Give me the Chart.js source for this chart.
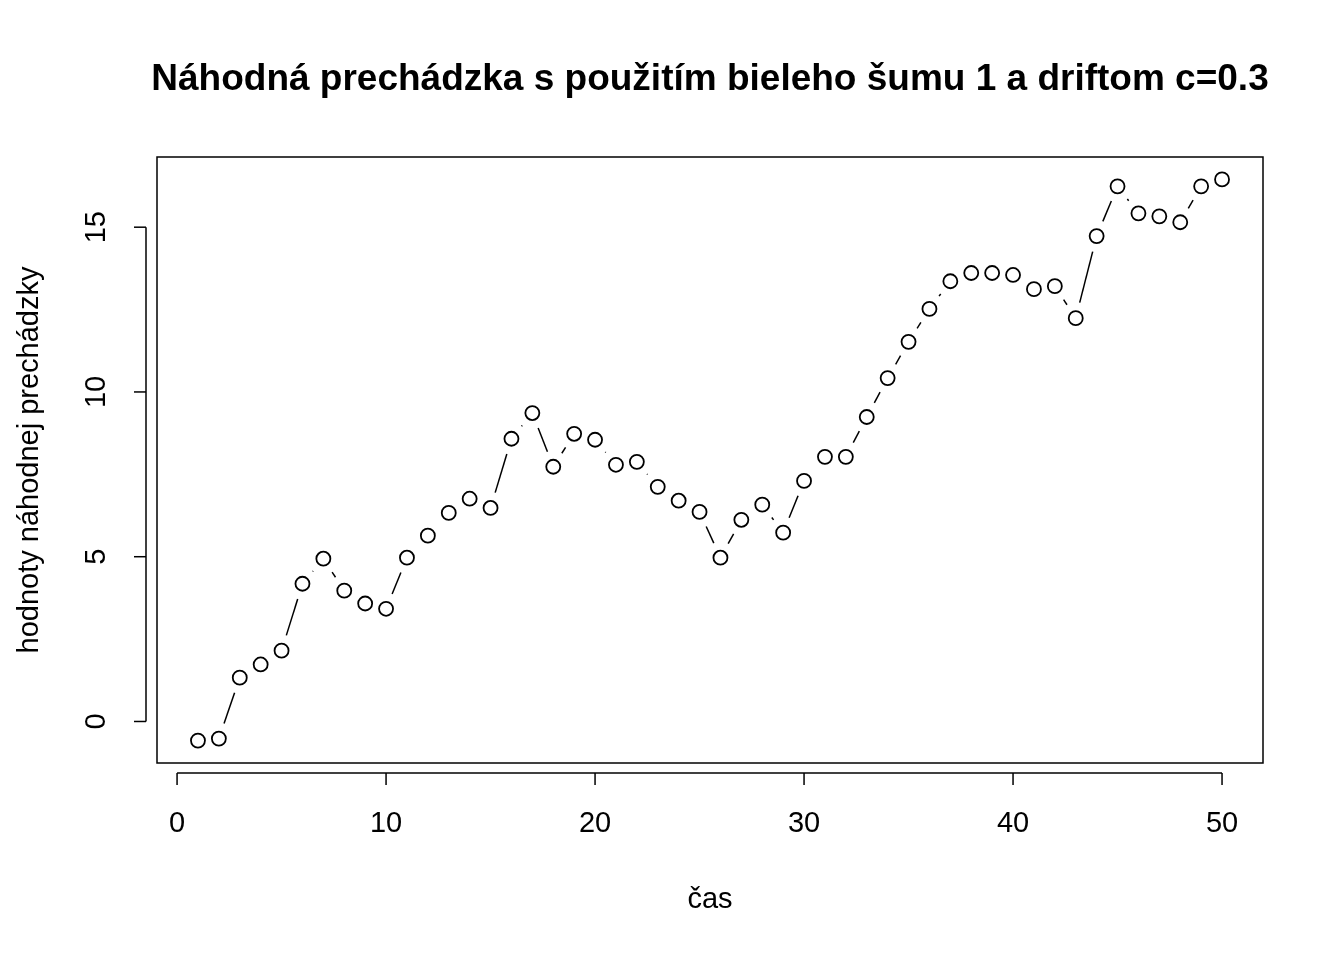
<!DOCTYPE html>
<html><head><meta charset="utf-8">
<script src="https://cdn.jsdelivr.net/npm/chart.js@4/dist/chart.umd.min.js"></script>
<style>body{margin:0;background:#fff}#wrap{width:1344px;height:960px}</style>
</head><body><div id="wrap"><canvas id="c"></canvas></div>
<script>
const titleText = "Náhodná prechádzka s použitím bieleho šumu 1 a driftom c=0.3";
const xLabel = "čas";
const yLabel = "hodnoty náhodnej prechádzky";
const xTicks = [0, 10, 20, 30, 40, 50];
const yTicks = [0, 5, 10, 15];
const times = Array.from({length: 50}, (_, i) => i + 1);
const values = [-0.58, -0.52, 1.33, 1.73, 2.15, 4.18, 4.94, 3.97, 3.58, 3.42,
  4.97, 5.64, 6.33, 6.76, 6.48, 8.58, 9.36, 7.73, 8.73, 8.55,
  7.79, 7.88, 7.12, 6.70, 6.36, 4.97, 6.12, 6.58, 5.73, 7.30,
  8.03, 8.03, 9.24, 10.42, 11.52, 12.52, 13.36, 13.61, 13.61, 13.55,
  13.12, 13.21, 12.24, 14.73, 16.24, 15.42, 15.33, 15.15, 16.24, 16.45];

const FONT = "'Liberation Sans', Arial, sans-serif";

// R-style frame, axes, gapped "b" lines and text
const rStyle = {
  id: "rStyle",
  afterDatasetsDraw(chart) {
    const {ctx, chartArea: a, scales: {x, y}} = chart;
    ctx.save();
    ctx.strokeStyle = "#000"; ctx.fillStyle = "#000"; ctx.lineWidth = 1.5;
    ctx.strokeRect(a.left, a.top, a.right - a.left, a.bottom - a.top);
    // gapped segments
    const gap = 16;
    for (let i = 0; i < values.length - 1; i++) {
      const x0 = x.getPixelForValue(times[i]), y0 = y.getPixelForValue(values[i]);
      const x1 = x.getPixelForValue(times[i + 1]), y1 = y.getPixelForValue(values[i + 1]);
      const d = Math.hypot(x1 - x0, y1 - y0);
      if (d <= 2 * gap) continue;
      const ux = (x1 - x0) / d, uy = (y1 - y0) / d;
      ctx.beginPath();
      ctx.moveTo(x0 + ux * gap, y0 + uy * gap);
      ctx.lineTo(x1 - ux * gap, y1 - uy * gap);
      ctx.stroke();
    }
    // x axis
    const ya = a.bottom + 10;
    ctx.beginPath();
    ctx.moveTo(x.getPixelForValue(xTicks[0]), ya);
    ctx.lineTo(x.getPixelForValue(xTicks[xTicks.length - 1]), ya);
    ctx.stroke();
    ctx.font = "29px " + FONT; ctx.textAlign = "center"; ctx.textBaseline = "middle";
    xTicks.forEach(t => {
      const px = x.getPixelForValue(t);
      ctx.beginPath(); ctx.moveTo(px, ya); ctx.lineTo(px, ya + 12); ctx.stroke();
      ctx.fillText(String(t), px, a.bottom + 61);
    });
    // y axis
    const xa = a.left - 11;
    ctx.beginPath();
    ctx.moveTo(xa, y.getPixelForValue(yTicks[0]));
    ctx.lineTo(xa, y.getPixelForValue(yTicks[yTicks.length - 1]));
    ctx.stroke();
    yTicks.forEach(t => {
      const py = y.getPixelForValue(t);
      ctx.beginPath(); ctx.moveTo(xa, py); ctx.lineTo(xa - 12, py); ctx.stroke();
      ctx.save(); ctx.translate(a.left - 60, py); ctx.rotate(-Math.PI / 2);
      ctx.fillText(String(t), 0, 0); ctx.restore();
    });
    // labels
    ctx.fillText(xLabel, (a.left + a.right) / 2, 900);
    ctx.save(); ctx.translate(30, (a.top + a.bottom) / 2); ctx.rotate(-Math.PI / 2);
    ctx.fillText(yLabel, 0, 0); ctx.restore();
    ctx.font = "bold 37px " + FONT;
    ctx.fillText(titleText, (a.left + a.right) / 2, 80);
    ctx.restore();
  }
};

new Chart(document.getElementById("c"), {
  type: "scatter",
  data: {
    datasets: [{
      data: times.map((t, i) => ({x: t, y: values[i]})),
      showLine: false,
      pointRadius: 7,
      pointBorderWidth: 1.8,
      pointBorderColor: "#000",
      pointBackgroundColor: "rgba(0,0,0,0)"
    }]
  },
  options: {
    responsive: true, maintainAspectRatio: false, animation: false,
    layout: {padding: {left: 157, right: 81, top: 157, bottom: 197}},
    plugins: {legend: {display: false}, tooltip: {enabled: false}},
    scales: {
      x: {display: false, min: -0.96, max: 51.96},
      y: {display: false, min: -1.26, max: 17.13}
    }
  },
  plugins: [rStyle]
});
</script></body></html>
